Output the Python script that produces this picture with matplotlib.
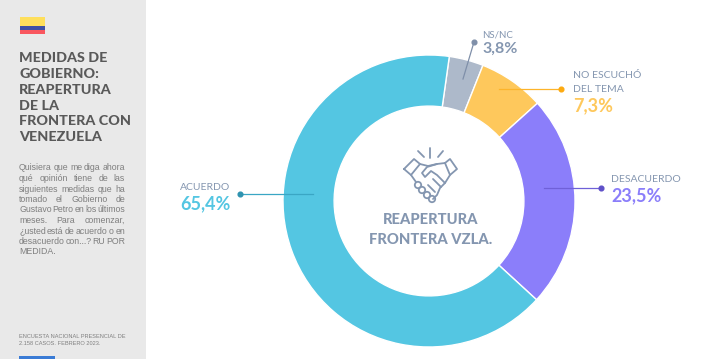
import matplotlib
matplotlib.use("Agg")
import matplotlib.pyplot as plt
from matplotlib.patches import Rectangle, Circle

W, H = 710, 359
FONT = "Lato"

# data, clockwise from the NS/NC slice
categories = ["NS/NC", "NO ESCUCHÓ\nDEL TEMA", "DESACUERDO", "ACUERDO"]
values = [3.8, 7.3, 23.5, 65.4]
value_labels = ["3,8%", "7,3%", "23,5%", "65,4%"]
slice_colors = ["#adb9ca", "#fec85c", "#8b7efa", "#54c6e2"]

title_lines = ["MEDIDAS DE", "GOBIERNO:", "REAPERTURA", "DE LA", "FRONTERA CON", "VENEZUELA"]
question_lines = [
    "Quisiera que me diga ahora",
    "qué opinión tiene de las",
    "siguientes medidas que ha",
    "tomado el Gobierno de",
    "Gustavo Petro en los últimos",
    "meses. Para comenzar,",
    "¿usted está de acuerdo o en",
    "desacuerdo con...? RU POR",
    "MEDIDA.",
]
source_lines = ["ENCUESTA NACIONAL PRESENCIAL DE", "2.158 CASOS. FEBRERO 2023."]
center_lines = ["REAPERTURA", "FRONTERA VZLA."]

fig = plt.figure(figsize=(W / 100, H / 100), dpi=100, facecolor="white")

# overlay in pixel coordinates for panel, labels and icon
bg = fig.add_axes([0, 0, 1, 1])
bg.set_xlim(0, W)
bg.set_ylim(H, 0)
bg.axis("off")

bg.add_patch(Rectangle((0, 0), 146, H, color="#e9e9e9", lw=0))
bg.add_patch(Rectangle((20, 17), 25, 9, color="#fedf5c", lw=0))
bg.add_patch(Rectangle((20, 26), 25, 4, color="#3f51a5", lw=0))
bg.add_patch(Rectangle((20, 30), 25, 4, color="#f9575f", lw=0))
bg.add_patch(Rectangle((19, 356), 36, 3, color="#3a7bd5", lw=0))

for i, line in enumerate(title_lines):
    bg.text(19, 58.5 + i * 15.7, line, family=FONT, weight="black", fontsize=10.3,
            color="#595959", va="center", ha="left")

# justified question text, word by word
renderer = fig.canvas.get_renderer()
for i, line in enumerate(question_lines):
    words = line.split()
    y = 168 + i * 10.5
    objs = [bg.text(0, y, w, family="Liberation Sans", fontsize=6.3, color="#7f7f7f",
                    va="center", ha="left") for w in words]
    widths = [o.get_window_extent(renderer).width for o in objs]
    last = i == len(question_lines) - 1
    gap = 2.0 if last else (106 - sum(widths)) / (len(words) - 1)
    x = 19
    for o, w in zip(objs, widths):
        o.set_x(x)
        x += w + gap

for i, line in enumerate(source_lines):
    bg.text(19, 336.5 + i * 7, line, family="Liberation Sans", fontsize=4.1,
            color="#7f7f7f", va="center", ha="left")

# donut
cx, cy, r = 429, 201, 146
ax = fig.add_axes([(cx - r) / W, 1 - (cy + r) / H, 2 * r / W, 2 * r / H])
ax.pie(values, colors=slice_colors, startangle=82, counterclock=False, radius=1,
       wedgeprops=dict(width=0.35, edgecolor="white", linewidth=1))
ax.set_xlim(-1, 1)
ax.set_ylim(-1, 1)
ax.patch.set_alpha(0)

# foreground labels
fg = fig.add_axes([0, 0, 1, 1])
fg.set_xlim(0, W)
fg.set_ylim(H, 0)
fg.axis("off")
fg.patch.set_alpha(0)

SLATE = "#8496b0"
leaders = [
    ((463, 79), (474, 42), "#7f8fa9", "#7f8fa9"),
    ((499, 89), (561, 89), "#fdb42a", "#fdaa10"),
    ((544, 188), (601, 188), "#6f60d8", "#5f50c8"),
    ((240, 194), (313, 194), "#3aa6c4", "#2f93b0"),
]
for a, b, c, dot in leaders:
    fg.plot([a[0], b[0]], [a[1], b[1]], color=c, lw=0.9)
end_points = [(474, 42), (561, 89), (601, 188), (240, 194)]
for (x, y), (_, _, _, dot) in zip(end_points, leaders):
    fg.plot([x], [y], "o", ms=3.4, color=dot)

fs_small, fs_big = 7.5, 13
fg.text(482, 35, categories[0], family=FONT, fontsize=7, color=SLATE, va="center")
fg.text(482, 49, value_labels[0], family=FONT, weight="bold", fontsize=11.5, color=SLATE, va="center")
fg.text(573, 76, "NO ESCUCHÓ", family=FONT, fontsize=fs_small, color=SLATE, va="center")
fg.text(573, 89, "DEL TEMA", family=FONT, fontsize=fs_small, color=SLATE, va="center")
fg.text(573, 106, value_labels[1], family=FONT, weight="bold", fontsize=fs_big, color="#fec85c", va="center")
fg.text(611, 179, categories[2], family=FONT, fontsize=fs_small, color=SLATE, va="center")
fg.text(611, 196, value_labels[2], family=FONT, weight="bold", fontsize=fs_big, color="#8b7efa", va="center")
fg.text(180, 188, categories[3], family=FONT, fontsize=fs_small, color=SLATE, va="center")
fg.text(180, 204, value_labels[3], family=FONT, weight="bold", fontsize=fs_big, color="#54c6e2", va="center")

for i, line in enumerate(center_lines):
    fg.text(431, 220 + i * 20, line, family=FONT, weight="black", fontsize=10.6,
            color=SLATE, va="center", ha="center")

# handshake icon
icon = [
    [(404, 169), (414, 159), (420, 164), (411, 175), (404, 169)],
    [(445, 163), (450, 159), (457, 169), (450, 175), (445, 163)],
    [(420, 164), (428, 166), (437, 164), (445, 163)],
    [(437, 164), (427, 167), (422, 173), (425, 177), (431, 171), (437, 175), (445, 183)],
    [(450, 175), (445, 183), (440, 188), (437, 195), (433, 199)],
    [(411, 175), (416, 182)],
    [(428, 185), (435, 192)],
    [(433, 179), (441, 187)],
    [(418, 151), (424, 157)],
    [(430, 148), (430, 158)],
    [(443, 151), (438, 157)],
]
for pts in icon:
    fg.plot([p[0] for p in pts], [p[1] for p in pts], color=SLATE, lw=1.3,
            solid_capstyle="round", solid_joinstyle="round")
for c in [(418, 185), (422, 190), (427, 195), (432, 199)]:
    fg.add_patch(Circle(c, 3.2, fill=False, edgecolor=SLATE, lw=1.3))

fig.savefig("out.png", dpi=100)
